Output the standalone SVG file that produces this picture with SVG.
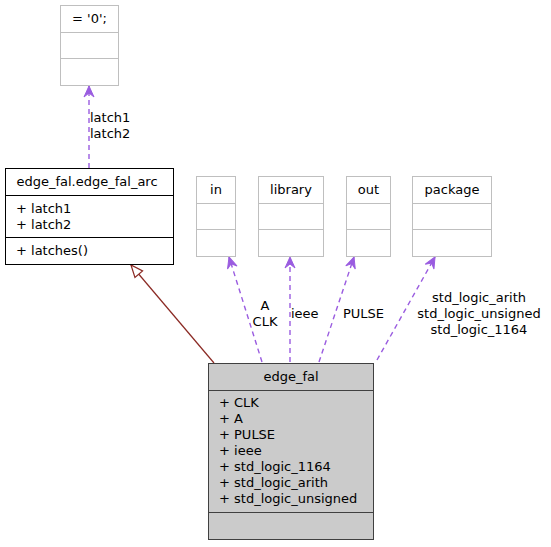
<svg xmlns="http://www.w3.org/2000/svg" width="551" height="547" viewBox="0 0 551 547">
<style>
text{font-family:"DejaVu Sans","Liberation Sans",sans-serif;font-size:13px;fill:#000}
.c{text-anchor:middle}
.g rect,.g line{stroke:#bfbfbf;stroke-width:1;fill:#fff}
.k rect,.k line{stroke:#000;stroke-width:1;fill:#fff}
.m rect{fill:#cbcbcb;stroke:#404040;stroke-width:1}
.m line{stroke:#404040;stroke-width:1}
.dep{stroke:#9a5ce0;stroke-width:1.4;fill:none;stroke-dasharray:5,4;marker-end:url(#vee)}
.inh{stroke:#8b2a24;stroke-width:1.2;fill:none;marker-end:url(#tri)}
</style>
<defs>
<marker id="vee" viewBox="-13 -6 14 12" refX="0" refY="0" markerWidth="14" markerHeight="12" markerUnits="userSpaceOnUse" orient="auto">
<path d="M0,0 L-11,-5 L-7,0 L-11,5 Z" fill="#9a5ce0" stroke="#9a5ce0" stroke-width="1"/>
</marker>
<marker id="tri" viewBox="-14 -7 15 14" refX="0" refY="0" markerWidth="15" markerHeight="14" markerUnits="userSpaceOnUse" orient="auto">
<path d="M0,0 L-12,-5 L-12,5 Z" fill="#fff" stroke="#8b2a24" stroke-width="1.2"/>
</marker>
</defs>
<g id="edges">
<path class="dep" d="M89,168 L89,86"/>
<path class="inh" d="M214,363 L131,265"/>
<path class="dep" d="M262,362 L229,257"/>
<path class="dep" d="M290,362 L290,257"/>
<path class="dep" d="M319,362 L354,257"/>
<path class="dep" d="M377,360 L435,257"/>
<text x="90" y="122">latch1</text>
<text x="90" y="138">latch2</text>
<text class="c" x="265" y="310">A</text>
<text class="c" x="265" y="326">CLK</text>
<text x="291" y="318">ieee</text>
<text x="343" y="318">PULSE</text>
<text class="c" x="479" y="302">std_logic_arith</text>
<text class="c" x="479" y="318">std_logic_unsigned</text>
<text class="c" x="479" y="334">std_logic_1164</text>
</g>
<g id="zero" class="g">
<rect x="60.5" y="5.5" width="58" height="80"/>
<line x1="60.5" y1="32.5" x2="118.5" y2="32.5"/>
<line x1="60.5" y1="58.5" x2="118.5" y2="58.5"/>
<text class="c" x="89.5" y="23">= '0';</text>
</g>
<g id="edge_fal_arc" class="k">
<rect x="5.5" y="168.5" width="168" height="96"/>
<line x1="5.5" y1="195.5" x2="173.5" y2="195.5"/>
<line x1="5.5" y1="237.5" x2="173.5" y2="237.5"/>
<text class="c" x="87" y="186">edge_fal.edge_fal_arc</text>
<text x="16" y="213">+ latch1</text>
<text x="16" y="229">+ latch2</text>
<text x="16" y="255">+ latches()</text>
</g>
<g id="in" class="g">
<rect x="196.5" y="176.5" width="39" height="80"/>
<line x1="196.5" y1="203.5" x2="235.5" y2="203.5"/>
<line x1="196.5" y1="229.5" x2="235.5" y2="229.5"/>
<text class="c" x="216" y="194">in</text>
</g>
<g id="library" class="g">
<rect x="258.5" y="176.5" width="65" height="80"/>
<line x1="258.5" y1="203.5" x2="323.5" y2="203.5"/>
<line x1="258.5" y1="229.5" x2="323.5" y2="229.5"/>
<text class="c" x="291" y="194">library</text>
</g>
<g id="out" class="g">
<rect x="346.5" y="176.5" width="44" height="80"/>
<line x1="346.5" y1="203.5" x2="390.5" y2="203.5"/>
<line x1="346.5" y1="229.5" x2="390.5" y2="229.5"/>
<text class="c" x="368.5" y="194">out</text>
</g>
<g id="package" class="g">
<rect x="412.5" y="176.5" width="79" height="80"/>
<line x1="412.5" y1="203.5" x2="491.5" y2="203.5"/>
<line x1="412.5" y1="229.5" x2="491.5" y2="229.5"/>
<text class="c" x="452" y="194">package</text>
</g>
<g id="edge_fal" class="m">
<rect x="208.5" y="363.5" width="165" height="176"/>
<line x1="208.5" y1="390.5" x2="373.5" y2="390.5"/>
<line x1="208.5" y1="512.5" x2="373.5" y2="512.5"/>
<text class="c" x="291" y="381">edge_fal</text>
<text x="219" y="407">+ CLK</text>
<text x="219" y="423">+ A</text>
<text x="219" y="439">+ PULSE</text>
<text x="219" y="455">+ ieee</text>
<text x="219" y="471">+ std_logic_1164</text>
<text x="219" y="487">+ std_logic_arith</text>
<text x="219" y="503">+ std_logic_unsigned</text>
</g>
</svg>
